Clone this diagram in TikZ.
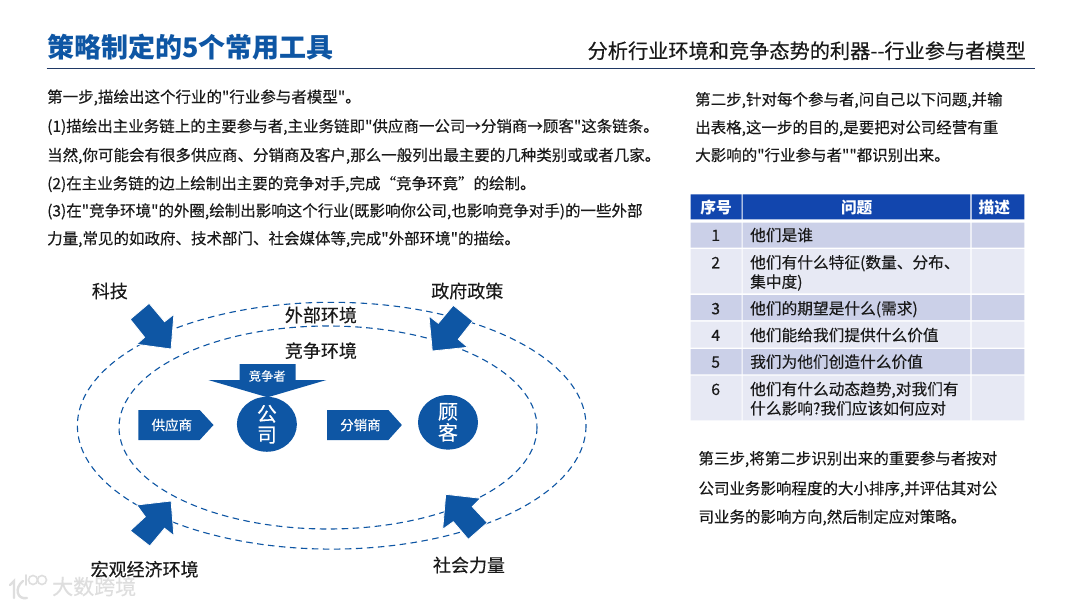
\documentclass[tikz,border=0pt]{standalone}
\usepackage{fontspec}
\setmainfont{Noto Sans CJK SC}[Ligatures=TeXOff,FakeBold=0.25,BoldFeatures={FakeBold=0}]
\usetikzlibrary{shapes.geometric}
\definecolor{mainblue}{HTML}{0E56A4}
\definecolor{headblue}{HTML}{1246AE}
\definecolor{rowdark}{HTML}{CBD0E8}
\definecolor{rowlight}{HTML}{E7E9F4}
\definecolor{ink}{HTML}{1A1A1A}
\definecolor{navy}{HTML}{1F3864}
\definecolor{wm}{HTML}{DEDEDE}
\tikzset{
  lbl/.style={font=\fontsize{#1}{#1}\selectfont,inner sep=0pt,text=ink,text height=0.88*#1 pt,text depth=0.12*#1 pt},
  body/.style={lbl=15.5,anchor=west},
  cellt/.style={lbl=15.7,anchor=west},
  cellnum/.style={lbl=15.7,anchor=center},
  headt/.style={font=\fontsize{15.7}{15.7}\selectfont\bfseries,inner sep=0pt,text=white,text height=13.8pt,text depth=1.9pt,anchor=center},
  biglbl/.style={lbl=18,anchor=center},
  shapet/.style={lbl=#1,anchor=center,text=white},
  ring/.style={draw=mainblue,line width=1.1pt,dash pattern=on 6.5pt off 4.5pt,fill=none},
  bluearrow/.style={fill=mainblue,draw=white,line width=0.8pt,line join=miter},
  blob/.style={ellipse,fill=mainblue,minimum width=60pt,minimum height=48pt,inner sep=0pt,text=white,align=center,font=\fontsize{20}{21}\selectfont},
  darkrow/.style={fill=rowdark},
  lightrow/.style={fill=rowlight},
  headrow/.style={fill=headblue},
  wmline/.style={draw=wm,line width=2.4pt,fill=none,line cap=round}
}
\begin{document}
\begin{tikzpicture}[x=1pt,y=-1pt]
\useasboundingbox (0,0) rectangle (1080,608);
\fill[white] (0,0) rectangle (1080,608);

% header
\node[font=\fontsize{27}{27}\selectfont\bfseries,inner sep=0pt,text=mainblue,anchor=west,text height=23.8pt,text depth=3.2pt] (title) at (47,47) {策略制定的5个常用工具};
\node[lbl=20.2,anchor=east] (subtitle) at (1026,50.7) {分析行业环境和竞争态势的利器--行业参与者模型};
\draw[navy,line width=1.5pt] (46.5,68.7) -- (1034.5,68.7);

% step 1
\node[body] (s1a) at (47,96.7) {第一步,描绘出这个行业的"行业参与者模型"。};
\node[body] (s1b) at (47,126) {(1)描绘出主业务链上的主要参与者,主业务链即"供应商一公司→分销商→顾客"这条链条。};
\node[body] (s1c) at (47,155) {当然,你可能会有很多供应商、分销商及客户,那么一般列出最主要的几种类别或或者几家。};
\node[body] (s1d) at (47,183.3) {(2)在主业务链的边上绘制出主要的竞争对手,完成“竞争环竟”的绘制。};
\node[body] (s1e) at (47,210.5) {(3)在"竞争环境"的外圈,绘制出影响这个行业(既影响你公司,也影响竞争对手)的一些外部};
\node[body] (s1f) at (47,238.3) {力量,常见的如政府、技术部门、社会媒体等,完成"外部环境"的描绘。};

% step 2
\node[body] (s2a) at (695,99.3) {第二步,针对每个参与者,问自己以下问题,并输};
\node[body] (s2b) at (695,127.3) {出表格,这一步的目的,是要把对公司经营有重};
\node[body] (s2c) at (695,155) {大影响的"行业参与者""都识别出来。};

% table
\path[headrow] (690.7,194.3) rectangle (741.7,219.3) (742.7,194.3) rectangle (970.3,219.3) (971.7,194.3) rectangle (1024.3,219.3);
\path[darkrow] (690.7,222.7) rectangle (741.7,247.7) (742.7,222.7) rectangle (970.3,247.7) (971.7,222.7) rectangle (1024.3,247.7);
\path[lightrow] (690.7,249) rectangle (741.7,293.3) (742.7,249) rectangle (970.3,293.3) (971.7,249) rectangle (1024.3,293.3);
\path[darkrow] (690.7,295) rectangle (741.7,320) (742.7,295) rectangle (970.3,320) (971.7,295) rectangle (1024.3,320);
\path[lightrow] (690.7,321.7) rectangle (741.7,347.7) (742.7,321.7) rectangle (970.3,347.7) (971.7,321.7) rectangle (1024.3,347.7);
\path[darkrow] (690.7,349) rectangle (741.7,374.3) (742.7,349) rectangle (970.3,374.3) (971.7,349) rectangle (1024.3,374.3);
\path[lightrow] (690.7,375.7) rectangle (741.7,420.3) (742.7,375.7) rectangle (970.3,420.3) (971.7,375.7) rectangle (1024.3,420.3);
\node[headt] (h1) at (716,207.7) {序号};
\node[headt] (h2) at (856.7,207.7) {问题};
\node[headt] (h3) at (994.3,207.7) {描述};
\node[cellnum] (n1) at (715.7,235) {1};
\node[cellnum] (n2) at (715.7,262.3) {2};
\node[cellnum] (n3) at (715.7,308.3) {3};
\node[cellnum] (n4) at (715.7,335) {4};
\node[cellnum] (n5) at (715.7,361.7) {5};
\node[cellnum] (n6) at (715.7,389) {6};
\node[cellt] (q1) at (750,235) {他们是谁};
\node[cellt] (q2a) at (750,262.3) {他们有什么特征(数量、分布、};
\node[cellt] (q2b) at (750,281.7) {集中度)};
\node[cellt] (q3) at (750,308.3) {他们的期望是什么(需求)};
\node[cellt] (q4) at (750,335) {他们能给我们提供什么价值};
\node[cellt] (q5) at (750,361.7) {我们为他们创造什么价值};
\node[cellt] (q6a) at (750,389) {他们有什么动态趋势,对我们有};
\node[cellt] (q6b) at (750,408.3) {什么影响?我们应该如何应对};

% step 3
\node[body] (s3a) at (698.3,458.3) {第三步,将第二步识别出来的重要参与者按对};
\node[body] (s3b) at (698.3,488.3) {公司业务影响程度的大小排序,并评估其对公};
\node[body] (s3c) at (698.3,516.7) {司业务的影响方向,然后制定应对策略。};

% rings
\draw[ring] (331.7,425.7) ellipse [x radius=254.3,y radius=123.4];
\draw[ring] (328,427.5) ellipse [x radius=209,y radius=101.5];

% four block arrows
\path[bluearrow] (171.1,349) -- (173.9,314.3) -- (164.6,321.7) -- (149.1,303.3) -- (130.2,319.3) -- (144.6,337.3) -- (136.7,344.3) -- cycle;
\path[bluearrow] (432.3,351) -- (429,316) -- (438.3,323.3) -- (453.3,305.3) -- (472.7,321) -- (458.3,339.3) -- (467.7,347.3) -- cycle;
\path[bluearrow] (171.1,501) -- (136.7,505) -- (145.3,516.7) -- (130.2,530.7) -- (149.8,546) -- (164.6,528.3) -- (173.9,535.7) -- cycle;
\path[bluearrow] (445.7,494.3) -- (480.7,498.3) -- (472.3,506.7) -- (487.3,522.7) -- (468.3,539.3) -- (453.3,521.7) -- (442.7,529.3) -- cycle;

% labels
\node[biglbl] (tech) at (109.8,291) {科技};
\node[biglbl] (gov) at (467.3,291) {政府政策};
\node[biglbl] (outer) at (320.9,315) {外部环境};
\node[biglbl] (inner) at (320.9,350.7) {竞争环境};
\node[biglbl] (macro) at (144.6,569.3) {宏观经济环境};
\node[biglbl] (social) at (469,565) {社会力量};

% chain
\fill[mainblue] (239.7,364) -- (295.5,364) -- (295.5,380) -- (326.4,380) -- (267.6,397.3) -- (208.3,380) -- (239.7,380) -- cycle;
\node[shapet=12.3] (rival) at (267.2,376) {竞争者};
\fill[mainblue] (138.4,410) -- (199.7,410) -- (213.5,425) -- (199.7,440) -- (138.4,440) -- cycle;
\node[shapet=13.5] (supplier) at (171.8,425) {供应商};
\fill[mainblue] (327.1,410) -- (388.4,410) -- (401.9,425) -- (388.4,440) -- (327.1,440) -- cycle;
\node[shapet=13.5] (dist) at (360.5,425) {分销商};
\node[blob] (company) at (266.9,424.3) {公\\司};
\node[blob] (customer) at (448,422.3) {顾\\客};

% watermark
\draw[wmline] (10,585) -- (14,581) -- (14,598);
\draw[wmline] (23,581) .. controls (14,588) and (17,600) .. (27,598);
\draw[wmline,line width=1.6pt] (26,575) -- (26,585);
\draw[wm,line width=1.6pt] (33,580) circle (4.5);
\draw[wm,line width=1.6pt] (42,580) circle (4.5);
\node[font=\fontsize{21}{21}\selectfont,inner sep=0pt,text=wm,anchor=west] (mark) at (52,586.5) {大数跨境};
\end{tikzpicture}
\end{document}
